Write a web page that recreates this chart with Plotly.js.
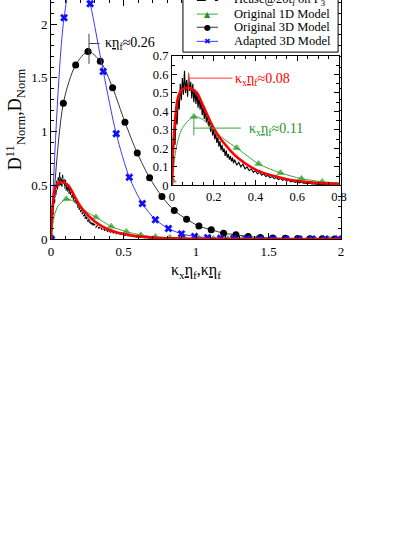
<!DOCTYPE html>
<html>
<head>
<meta charset="utf-8">
<script src="https://cdn.plot.ly/plotly-3.0.1.min.js"></script>
<style>html,body{margin:0;padding:0;background:#fff;}#chart{width:415px;height:537px;}</style>
</head>
<body>
<div id="chart"></div>
<script>
// ---- data ----
var noiseX = [0.005,0.010,0.015,0.020,0.025,0.030,0.035,0.040,0.045,0.050,0.055,0.060,0.065,0.070,0.075,0.080,0.085,0.090,0.095,0.100,
  0.105,0.110,0.115,0.120,0.125,0.130,0.135,0.140,0.145,0.150,0.155,0.160,0.165,0.170,0.175,0.180,0.185,0.190,0.195,0.200,
  0.205,0.210,0.215,0.220,0.225,0.230,0.235,0.240,0.245,0.250,0.255,0.260,0.265,0.270,0.275,0.280,0.285,0.290,0.295,0.300,
  0.31,0.32,0.33,0.34,0.35,0.36,0.37,0.38,0.39,0.40,0.41,0.42,0.43,0.44,0.45,0.46,0.47,0.48,0.49,0.50,
  0.51,0.52,0.53,0.54,0.55,0.56,0.57,0.58,0.59,0.60,0.61,0.62,0.63,0.64,0.65,0.66,0.67,0.68,0.69,0.70,0.72,0.74,0.76];
var noiseY = [0.10,0.28,0.22,0.40,0.33,0.47,0.41,0.55,0.46,0.58,0.49,0.62,0.50,0.57,0.48,0.60,0.51,0.56,0.47,0.55,
  0.45,0.52,0.44,0.50,0.42,0.48,0.41,0.46,0.38,0.43,0.36,0.41,0.34,0.38,0.32,0.35,0.29,0.33,0.27,0.30,
  0.25,0.28,0.23,0.26,0.21,0.24,0.19,0.22,0.18,0.20,0.16,0.19,0.15,0.17,0.14,0.16,0.13,0.15,0.12,0.14,
  0.11,0.125,0.10,0.115,0.09,0.10,0.08,0.09,0.07,0.08,0.062,0.072,0.055,0.063,0.048,0.055,0.042,0.049,0.037,0.043,
  0.032,0.038,0.028,0.033,0.024,0.028,0.020,0.024,0.017,0.020,0.014,0.017,0.012,0.014,0.010,0.012,0.008,0.010,0.007,0.008,0.006,0.005,0.004];

var redX = [0,0.004,0.01,0.018,0.025,0.035,0.046,0.06,0.075,0.09,0.105,0.12,0.14,0.16,0.18,0.2,0.225,0.25,0.275,0.3,
  0.35,0.4,0.45,0.5,0.55,0.6,0.65,0.7,0.8,0.9,1.0,1.2,1.4,1.6,1.8,2.0];
var redY = [0,0.16,0.28,0.39,0.455,0.495,0.515,0.526,0.528,0.524,0.513,0.50,0.455,0.405,0.355,0.31,0.265,0.228,0.195,0.165,
  0.12,0.086,0.064,0.048,0.034,0.025,0.018,0.013,0.007,0.004,0.002,0.001,0,0,0,0];

var greenX = [0.003,0.02,0.05,0.105,0.15,0.2,0.25,0.31,0.415,0.52,0.62,0.72,0.82,0.92,1.02,1.12,1.22,1.32,1.42,1.52,1.62,1.72,1.82,1.92];
var greenY = [0.027,0.2,0.31,0.372,0.355,0.30,0.25,0.203,0.117,0.068,0.037,0.020,0.013,0.008,0.005,0.003,0.002,0.001,0.001,0,0,0,0,0];
var greenMarked = [1,0,0,1,0,0,0,1,1,1,1,1,1,1,1,1,1,1,1,1,1,1,1,1];

var black3DX = [0,0.085,0.17,0.255,0.34,0.425,0.51,0.595,0.68,0.765,0.85,0.935,1.02,1.105,1.19,1.275,1.36,1.445,1.53,1.615,1.70,1.785,1.87,1.955];
var black3DY = [0,1.264,1.62,1.746,1.655,1.408,1.087,0.80,0.57,0.395,0.265,0.185,0.12,0.086,0.054,0.039,0.023,0.014,0.009,0.006,0.004,0.003,0.002,0.001];

var blueX = [0,0.09,0.18,0.27,0.36,0.45,0.54,0.63,0.72,0.81,0.90,0.99,1.08,1.17,1.26,1.35,1.44,1.53,1.62,1.71,1.80,1.89,1.98];
var blueY = [0,2.06,2.62,2.19,1.56,0.98,0.575,0.33,0.18,0.098,0.048,0.024,0.013,0.007,0.004,0.002,0.001,0.001,0,0,0,0,0];

var legendNames = ['Hease@20t<sub>f</sub> on F<sub>3</sub>','Original 1D Model','Original 3D Model','Adapted 3D Model'];
var peak3D = [0.262, 1.746], peakFit = [0.08, 0.528], peak1D = [0.105, 0.372];

// ---- styling ----
var SERIF = 'Liberation Serif, Times New Roman, serif';
var cRed = '#ff0000', cGreen = '#3aa53a', cGreenM = '#1e961e', cBlack = '#333333', cBlue = '#3a3aff', cBlueM = '#1010ff';

function traces(xa, ya, inset) {
  var t = [];
  t.push({x: noiseX, y: noiseY, xaxis: xa, yaxis: ya, mode: 'lines', hoverinfo: 'skip',
    line: {color: '#000', width: 1.1, dash: inset ? 'solid' : '3px,1.5px'}});
  t.push({x: greenX, y: greenY, xaxis: xa, yaxis: ya, mode: 'lines+markers', line: {color: cGreen, width: 1, shape: 'spline', smoothing: 0.8},
    marker: {symbol: 'triangle-up', color: cGreenM, size: greenMarked.map(function(m){return m ? 6.5 : 0;})}});
  if (!inset) {
    t.push({x: black3DX, y: black3DY, xaxis: xa, yaxis: ya, mode: 'lines+markers', line: {color: cBlack, width: 1, shape: 'spline', smoothing: 0.8},
      marker: {symbol: 'circle', color: '#000', size: 7}});
    t.push({x: blueX, y: blueY, xaxis: xa, yaxis: ya, mode: 'lines+markers', line: {color: cBlue, width: 1, shape: 'spline', smoothing: 0.8},
      marker: {symbol: 'x', color: cBlueM, size: 7}});
  }
  t.push({x: redX, y: redY, xaxis: xa, yaxis: ya, mode: 'lines', line: {color: cRed, width: 2.6, shape: 'spline', smoothing: 0.5}});
  return t;
}
var data = traces('x', 'y', false).concat(traces('x2', 'y2', true));

function axisBase(size) {
  return {showline: true, linecolor: '#000', linewidth: 1, mirror: 'ticks', ticks: 'inside', ticklen: 6, tickwidth: 1,
    tickcolor: '#000', showgrid: false, zeroline: false, tickfont: {family: SERIF, size: size, color: '#000'}};
}
var xaxis = Object.assign(axisBase(13), {range: [0, 2], tick0: 0, dtick: 0.5,
  minor: {dtick: 0.1, ticks: 'inside', ticklen: 3, tickcolor: '#000', showgrid: false},
  title: {text: 'κ<sub>x</sub><u>η</u><sub>f</sub>,κ<u>η</u><sub>f</sub>', font: {family: SERIF, size: 16, color: '#000'}, standoff: 6}});
var yaxis = Object.assign(axisBase(13), {range: [0, 2.225], tick0: 0, dtick: 0.5,
  minor: {dtick: 0.1, ticks: 'inside', ticklen: 3, tickcolor: '#000', showgrid: false},
  title: {text: 'D<sup>11</sup><sub>Norm</sub>,D<sub>Norm</sub>', font: {family: SERIF, size: 18, color: '#000'}, standoff: 4}});
var xaxis2 = Object.assign(axisBase(12.5), {domain: [0.417, 0.993], anchor: 'y2', range: [0, 0.8], tick0: 0, dtick: 0.2, ticklen: 5,
  minor: {dtick: 0.05, ticks: 'inside', ticklen: 3, tickcolor: '#000', showgrid: false}});
var yaxis2 = Object.assign(axisBase(12.5), {domain: [0.224, 0.766], anchor: 'x2', range: [0, 0.7], tick0: 0, dtick: 0.1, ticklen: 5,
  minor: {dtick: 0.05, ticks: 'inside', ticklen: 3, tickcolor: '#000', showgrid: false}});

// peak markers (crosses) and their labels
var shapes = [
  {type: 'line', xref: 'x', yref: 'y', x0: peak3D[0], x1: peak3D[0], y0: 1.63, y1: 1.91, line: {color: '#444', width: 1}},
  {type: 'line', xref: 'x', yref: 'y', x0: peak3D[0], x1: 0.335, y0: 1.82, y1: 1.82, line: {color: '#444', width: 1}},
  {type: 'line', xref: 'x2', yref: 'y2', x0: peakFit[0], x1: peakFit[0], y0: 0.52, y1: 0.61, line: {color: '#ff3a3a', width: 1}},
  {type: 'line', xref: 'x2', yref: 'y2', x0: peakFit[0], x1: 0.29, y0: 0.58, y1: 0.58, line: {color: '#ff3a3a', width: 1}},
  {type: 'line', xref: 'x2', yref: 'y2', x0: peak1D[0], x1: peak1D[0], y0: 0.27, y1: 0.37, line: {color: cGreen, width: 1}},
  {type: 'line', xref: 'x2', yref: 'y2', x0: peak1D[0], x1: 0.33, y0: 0.31, y1: 0.31, line: {color: cGreen, width: 1}}
];
var annotations = [
  {xref: 'x', yref: 'y', x: 0.362, y: 1.82, xanchor: 'left', yanchor: 'middle', showarrow: false,
   text: 'κ<u>η</u><sub>f</sub>≈0.26', font: {family: SERIF, size: 14, color: '#000'}},
  {xref: 'x2', yref: 'y2', x: 0.292, y: 0.572, xanchor: 'left', yanchor: 'middle', showarrow: false,
   text: 'κ<sub>x</sub><u>η</u><sub>f</sub>≈0.08', font: {family: SERIF, size: 14, color: cRed}},
  {xref: 'x2', yref: 'y2', x: 0.358, y: 0.305, xanchor: 'left', yanchor: 'middle', showarrow: false,
   text: 'κ<sub>x</sub><u>η</u><sub>f</sub>≈0.11', font: {family: SERIF, size: 14, color: cGreenM}}
];

// legend box (partly above the page, as in the reference)
shapes.push({type: 'rect', xref: 'paper', yref: 'paper', x0: 0.455, x1: 0.990, y0: 0.782, y1: 1.06,
  line: {color: '#000', width: 1}, fillcolor: '#fff', layer: 'above'});
var rowY = [0.998, 0.941, 0.886, 0.827];
var rowLine = [{color: '#000', dash: 'dash'}, {color: cGreen}, {color: cBlack}, {color: cBlue}];
var rowGlyph = [null, {t: '▲', c: cGreenM, s: 8}, {t: '●', c: '#000', s: 8}, {t: '✖', c: cBlueM, s: 8}];
for (var i = 0; i < legendNames.length; i++) {
  shapes.push({type: 'line', xref: 'paper', yref: 'paper', x0: 0.503, x1: 0.576, y0: rowY[i], y1: rowY[i],
    line: {color: rowLine[i].color, width: 1, dash: rowLine[i].dash || 'solid'}, layer: 'above'});
  if (rowGlyph[i]) annotations.push({xref: 'paper', yref: 'paper', x: 0.540, y: rowY[i], xanchor: 'center', yanchor: 'middle',
    showarrow: false, text: rowGlyph[i].t, font: {family: 'DejaVu Sans', size: rowGlyph[i].s, color: rowGlyph[i].c}});
  annotations.push({xref: 'paper', yref: 'paper', x: 0.624, y: rowY[i], xanchor: 'left', yanchor: 'middle', showarrow: false,
    text: legendNames[i], font: {family: SERIF, size: 12.5, color: '#000'}});
}

var layout = {
  width: 415, height: 537, showlegend: false,
  margin: {l: 51, r: 74, t: 0, b: 298, autoexpand: false},
  paper_bgcolor: '#fff', plot_bgcolor: '#fff',
  font: {family: SERIF, color: '#000'},
  xaxis: xaxis, yaxis: yaxis, xaxis2: xaxis2, yaxis2: yaxis2,
  shapes: shapes, annotations: annotations
};
Plotly.newPlot('chart', data, layout, {displayModeBar: false, staticPlot: true});
</script>
</body>
</html>
